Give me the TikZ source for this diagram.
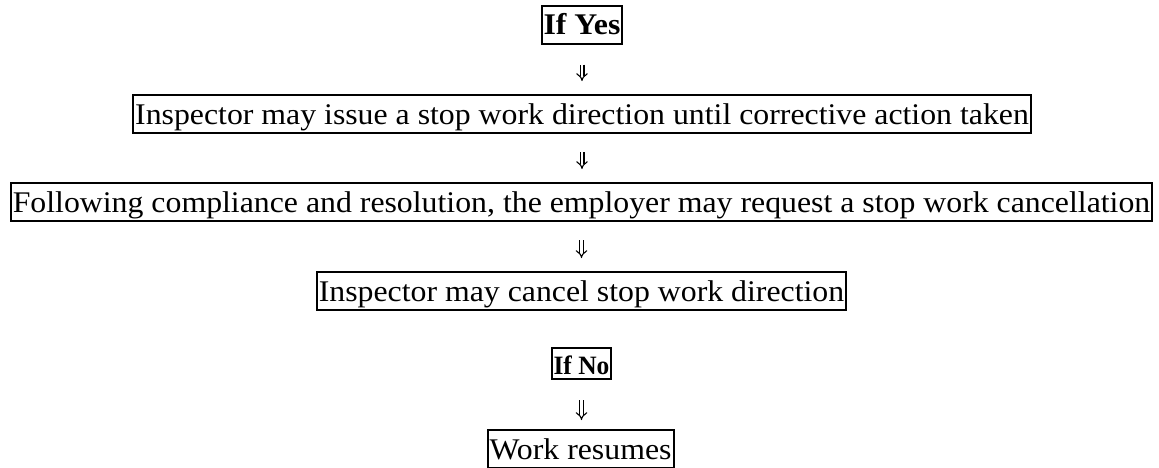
\documentclass[tikz,border=0pt]{standalone}
\usepackage{fontspec}
\setmainfont{Liberation Serif}[FakeStretch=1.06]
\newfontfamily\nobold{Liberation Serif}[FakeStretch=0.96]
\usetikzlibrary{arrows.meta}
\tikzset{
  stepbox/.style={draw, line width=2pt, inner xsep=2pt, inner ysep=2pt,
    text height=27pt, text depth=7pt, font=\fontsize{30}{36}\selectfont},
  boldbox/.style={stepbox, font=\fontsize{30}{36}\selectfont\bfseries},
  smallbold/.style={draw, line width=2pt, inner xsep=2pt, inner ysep=2pt,
    text height=24pt, text depth=3pt, font=\nobold\fontsize{26.5}{32}\selectfont\bfseries},
  darr/.style={double, double distance=2.8pt, line width=1.1pt, -{Implies[length=5.5pt,width=11pt]}}
}
\begin{document}
\begin{tikzpicture}[x=1pt,y=-1pt]
\useasboundingbox (0,0) rectangle (1159,467);
\node[boldbox] (yes) at (582,24.5) {If Yes};
\node[stepbox] (b1) at (582,114) {Inspector may issue a stop work direction until corrective action taken};
\node[stepbox] (b2) at (581.5,202) {Following compliance and resolution, the employer may request a stop work cancellation};
\node[stepbox] (b3) at (581.5,291) {Inspector may cancel stop work direction};
\node[smallbold] (no) at (581.5,363.5) {If No};
\node[stepbox] (work) at (580.5,449) {Work resumes};
\draw[darr, shorten <=20pt, shorten >=13pt] (yes.south) -- (yes.south |- b1.north);
\draw[darr, shorten <=18pt, shorten >=13pt] (b1.south) -- (b1.south |- b2.north);
\draw[darr, shorten <=18pt, shorten >=13pt] (b2.south) -- (b2.south |- b3.north);
\draw[darr, shorten <=20pt, shorten >=9pt] (no.south) -- (no.south |- work.north);
\end{tikzpicture}
\end{document}
